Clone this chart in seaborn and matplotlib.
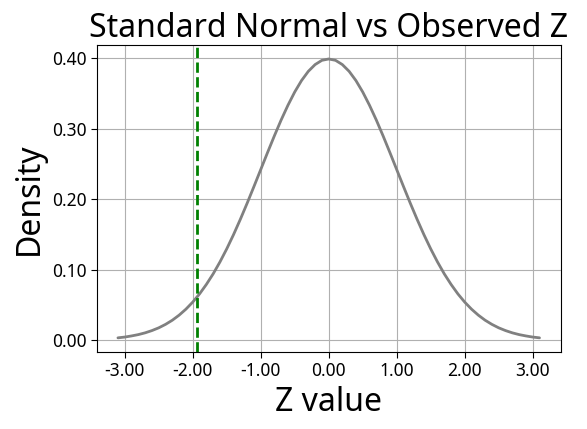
import matplotlib
matplotlib.use("Agg")
import matplotlib.pyplot as plt
import seaborn as sns
import pandas as pd

# density curve points
z_right = [0.0, 0.1, 0.2, 0.3, 0.4, 0.5, 0.6, 0.7, 0.8, 0.9, 1.0, 1.1, 1.2, 1.3, 1.4, 1.5,
           1.6, 1.7, 1.8, 1.9, 2.0, 2.1, 2.2, 2.3, 2.4, 2.5, 2.6, 2.7, 2.8, 2.9, 3.0, 3.1]
dens_right = [0.3989, 0.3970, 0.3910, 0.3814, 0.3683, 0.3521, 0.3332, 0.3123, 0.2897, 0.2661,
              0.2420, 0.2179, 0.1942, 0.1714, 0.1497, 0.1295, 0.1109, 0.0940, 0.0790, 0.0656,
              0.0540, 0.0440, 0.0355, 0.0283, 0.0224, 0.0175, 0.0136, 0.0104, 0.0079, 0.0060,
              0.0044, 0.0033]
z_vals = [-z for z in z_right[:0:-1]] + z_right
dens_vals = dens_right[:0:-1] + dens_right
observed_z = -1.94

df = pd.DataFrame({'z': z_vals, 'density': dens_vals})

sns.set_style('whitegrid')
plt.rcParams['font.family'] = ['Noto Sans', 'DejaVu Sans']
plt.rcParams['text.color'] = 'black'
plt.rcParams['axes.labelcolor'] = 'black'
plt.rcParams['xtick.color'] = 'black'
plt.rcParams['ytick.color'] = 'black'

fig, ax = plt.subplots(figsize=(5.87, 4.29), dpi=100)
sns.lineplot(data=df, x='z', y='density', color='gray', linewidth=2, ax=ax)
ax.axvline(observed_z, color='green', linestyle='--', linewidth=2)

ax.set_title('Standard Normal vs Observed Z', fontsize=23)
ax.set_xlabel('Z value', fontsize=23)
ax.set_ylabel('Density', fontsize=23)
ax.set_xticks([-3, -2, -1, 0, 1, 2, 3])
ax.xaxis.set_major_formatter(plt.FuncFormatter(lambda x, p: f'{x:.2f}'))
ax.yaxis.set_major_formatter(plt.FuncFormatter(lambda x, p: f'{x:.2f}'))
ax.tick_params(labelsize=12.5, length=4, left=True, bottom=True)
ax.grid(True, color='#b0b0b0', linewidth=0.8)
for s in ax.spines.values():
    s.set_color('black')
    s.set_linewidth(0.8)

plt.subplots_adjust(left=0.165, right=0.955, top=0.895, bottom=0.18)
plt.savefig('out.png', dpi=100)
plt.close()
